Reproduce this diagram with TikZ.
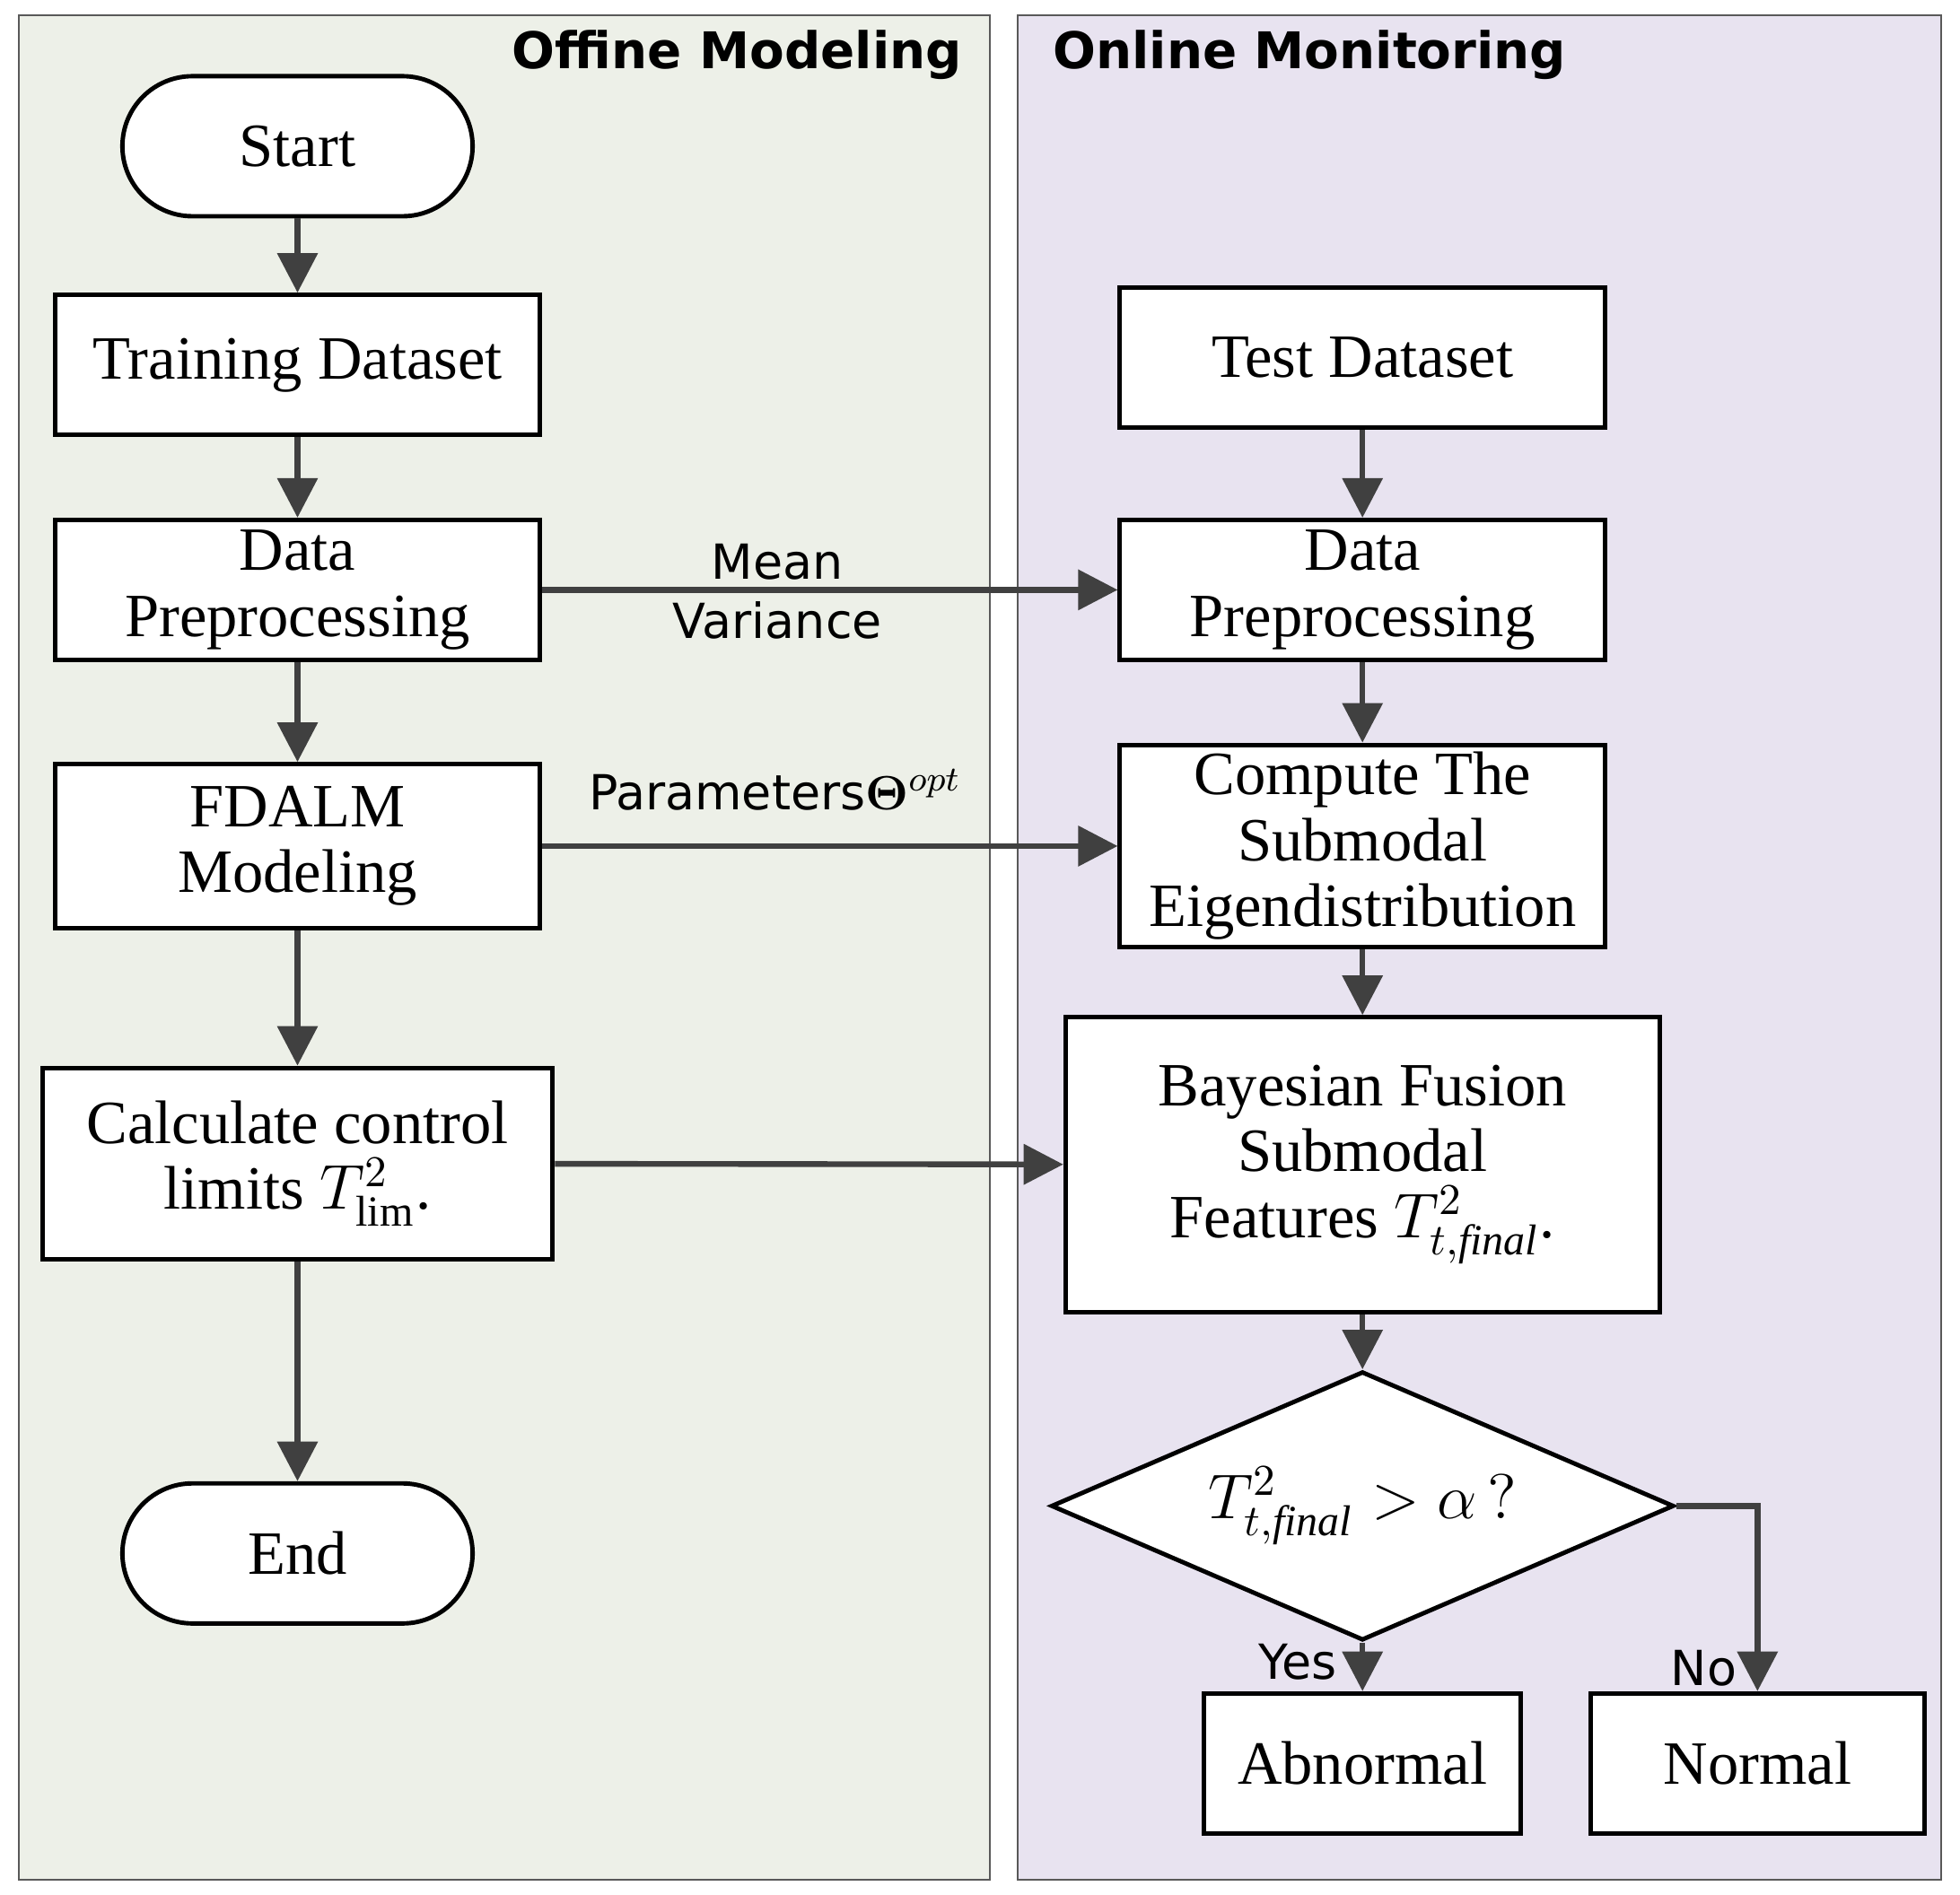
\documentclass[tikz,border=0pt]{standalone}
\usepackage{amsmath}
\usepackage{fontspec}
\setmainfont{Liberation Serif}
\newfontfamily\lblfont{DejaVu Sans}
\usetikzlibrary{shapes.geometric,arrows.meta}
\definecolor{offbg}{HTML}{EDF0E8}
\definecolor{onbg}{HTML}{E8E3F0}
\definecolor{arrowgray}{HTML}{404040}
\begin{document}
\begin{tikzpicture}[x=0.01cm,y=-0.01cm,
                    box/.style={draw=black, line width=1pt, fill=white, align=center, inner sep=0pt,
                        font=\fontsize{14}{15}\selectfont},
                    term/.style={box, rounded corners=0.56cm, minimum width=2.8cm, minimum height=1.12cm},
                    flow/.style={draw=arrowgray, line width=1.3pt, -{Triangle[length=9pt,width=9pt]}},
                    lbl/.style={font=\lblfont\fontsize{11}{13.5}\selectfont, align=center},
                    title/.style={font=\lblfont\bfseries\fontsize{11.5}{14}\selectfont}
                ]
                    \useasboundingbox (0,0) rectangle (1568,1516);
                    \fill[white] (0,0) rectangle (1568,1516);
                    % panels
                    \draw[fill=offbg, draw=gray!70!black] (15,12) rectangle (792,1504);
                    \draw[fill=onbg, draw=gray!70!black] (814,12) rectangle (1553,1504);
                    \node[title, anchor=east] (offTitle) at (782,44) {Offine Modeling};
                    \node[title, anchor=west] (onTitle) at (830,44) {Online Monitoring};
                    % offline column
                    \node[term] (start) at (238,117) {Start};
                    \node[box, minimum width=3.88cm, minimum height=1.12cm] (train) at (238,292) {Training Dataset};
                    \node[box, minimum width=3.88cm, minimum height=1.12cm] (preL) at (238,472) {Data\\Preprocessing};
                    \node[box, minimum width=3.88cm, minimum height=1.31cm] (fdalm) at (238,677) {FDALM\\Modeling};
                    \node[box, minimum width=4.08cm, minimum height=1.53cm] (calc) at (238,931) {Calculate control\\limits $T^2_{\mathrm{lim}}$.};
                    \node[term] (stop) at (238,1243) {End};
                    % online column
                    \node[box, minimum width=3.88cm, minimum height=1.12cm] (test) at (1090,286) {Test Dataset};
                    \node[box, minimum width=3.88cm, minimum height=1.12cm] (preR) at (1090,472) {Data\\Preprocessing};
                    \node[box, minimum width=3.88cm, minimum height=1.62cm] (comp) at (1090,677) {Compute The\\Submodal\\Eigendistribution};
                    \node[box, minimum width=4.75cm, minimum height=2.36cm] (bayes) at (1090,932) {Bayesian Fusion\\Submodal\\Features $T^2_{t,\mathit{final}}$.};
                    \node[box, diamond, aspect=2.32, minimum width=4.98cm, minimum height=2.15cm] (check) at (1090,1205) {$T^2_{t,\mathit{final}} > \alpha\,?$};
                    \node[box, minimum width=2.53cm, minimum height=1.12cm] (abn) at (1090,1411) {Abnormal};
                    \node[box, minimum width=2.67cm, minimum height=1.12cm] (norm) at (1406,1411) {Normal};
                    \coordinate (turn) at (1406,1205);
                    % connectors
                    \draw[flow] (start) -- (train);
                    \draw[flow] (train) -- (preL);
                    \draw[flow] (preL) -- (fdalm);
                    \draw[flow] (fdalm) -- (calc);
                    \draw[flow] (calc) -- (stop);
                    \draw[flow] (test) -- (preR);
                    \draw[flow] (preR) -- (comp);
                    \draw[flow] (comp) -- (bayes);
                    \draw[flow] (bayes) -- (check);
                    \draw[flow] (check) -- (abn);
                    \draw[flow] (check.east) -- (turn) -- (norm);
                    \draw[flow] (preL) -- (preR);
                    \draw[flow] (fdalm) -- (comp);
                    \draw[flow] (calc) -- (bayes);
                    % labels
                    \node[lbl] (meanLbl) at (622,473) {Mean\\Variance};
                    \node[lbl] (paraLbl) at (620,632) {Parameters$\boldsymbol{\Theta}^{opt}$};
                    \node[lbl] (yesLbl) at (1038,1330) {Yes};
                    \node[lbl] (noLbl) at (1363,1335) {No};
                \end{tikzpicture}
\end{document}
